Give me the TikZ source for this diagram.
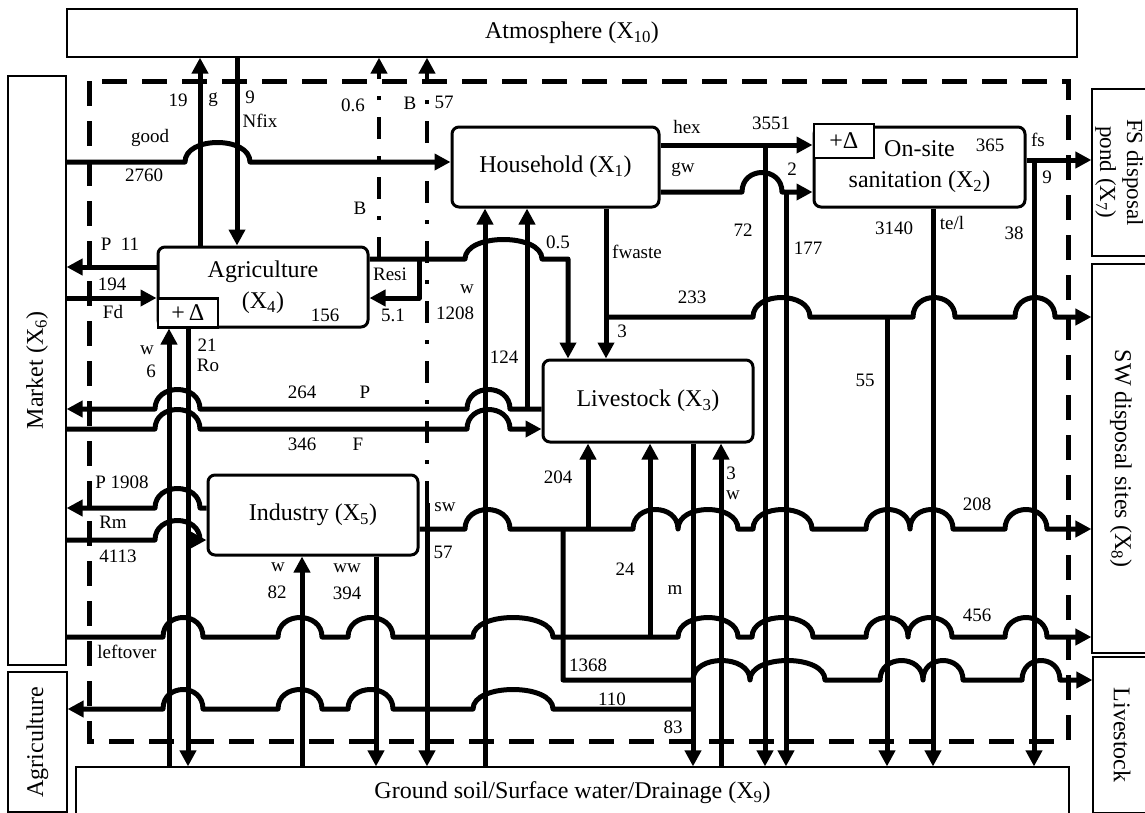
\documentclass[tikz,border=0pt]{standalone}
\usepackage{fontspec}
\setmainfont{Liberation Serif}
\usepackage{graphicx}
\usetikzlibrary{arrows.meta}

\begin{document}
\begin{tikzpicture}[x=1pt, y=-1pt,
    box/.style={rectangle, rounded corners=7pt, draw, line width=3pt, fill=white,
                minimum width=210pt, minimum height=80pt, align=center,
                font=\fontsize{24}{31}\selectfont},
    ext/.style={rectangle, draw, line width=1.2pt, fill=white, inner sep=0pt,
                font=\fontsize{24}{29}\selectfont},
    dbox/.style={rectangle, draw, line width=2.5pt, fill=white, inner sep=0pt,
                 minimum width=60pt, font=\fontsize{24}{29}\selectfont},
    flow/.style={line width=5pt, line join=round},
    arr/.style={flow, -{Triangle[length=16pt, width=16pt]}},
    burn/.style={line width=4pt, dash pattern=on 22pt off 17pt on 4pt off 17pt,
                 -{Triangle[length=16pt, width=16pt]}},
    sysline/.style={line width=5pt, dash pattern=on 25pt off 15pt},
    lbl/.style={inner sep=0pt, font=\fontsize{19}{22}\selectfont},
    hop/.style args={#1/#2/#3}{insert path={-- (#1,#3) .. controls (#1,#3-26) and (#2,#3-26) .. (#2,#3)}}]
\useasboundingbox (0,0) rectangle (1145,812);

% outside the system
\node[ext, minimum width=1010pt, minimum height=48pt] (atm) at (572,33) {Atmosphere (X\textsubscript{10})};
\node[ext, minimum width=58pt, minimum height=589pt] (mkt) at (37,370.5) {\rotatebox{90}{Market (X\textsubscript{6})}};
\node[ext, minimum width=59pt, minimum height=140pt] (agx) at (37.5,742) {\rotatebox{90}{Agriculture}};
\node[ext, minimum width=993pt, minimum height=52pt] (gnd) at (572.5,793) {Ground soil/Surface water/Drainage (X\textsubscript{9})};
\node[ext, minimum width=54pt, minimum height=167pt, font=\fontsize{23}{27}\selectfont] (fsp) at (1119,172.5)
    {\rotatebox{-90}{\begin{tabular}{@{}c@{}}FS disposal\\pond (X\textsubscript{7})\end{tabular}}};
\node[ext, minimum width=58pt, minimum height=389pt] (swd) at (1121,458.5) {\rotatebox{-90}{SW disposal sites (X\textsubscript{8})}};
\node[ext, minimum width=58pt, minimum height=156pt] (lvx) at (1122,735) {\rotatebox{-90}{Livestock}};

% processes
\node[box] (agri) at (263,287) {Agriculture\\(X\textsubscript{4})};
\node[box, minimum width=207pt] (hh) at (555.5,167) {Household (X\textsubscript{1})};
\node[box, minimum width=211pt] (oss) at (919.5,167) {On-site\\sanitation (X\textsubscript{2})};
\node[box, minimum height=82pt] (lvs) at (648,401) {Livestock (X\textsubscript{3})};
\node[box] (ind) at (313,515) {Industry (X\textsubscript{5})};
\node[dbox, minimum height=29pt, anchor=south west] (agd) at (agri.south west) {+\,Δ};
\node[dbox, minimum height=34pt, anchor=north west] (ossd) at ([yshift=3pt]oss.north west) {+Δ};

% system boundary
\draw[sysline] (89,81) rectangle (1068,741);

% junctions
\coordinate (jb) at (379,259);
\coordinate (jres) at (419,259);
\coordinate (jsw) at (427,503);
\coordinate (jp) at (527,409);
\coordinate (jhex) at (765,145);
\coordinate (jgw) at (786,192);
\coordinate (jfw) at (606,317);
\coordinate (j55) at (887,317);
\coordinate (jfs) at (1034,160);
\coordinate (jm) at (563,529);
\coordinate (j204) at (588,529);
\coordinate (j24) at (650,637);
\coordinate (j110) at (693,709);

% agriculture
\draw[arr] (agri.north -| 200,0) -- (atm.south -| 200,0);
\draw[arr] (atm.south -| 237,0) -- (agri.north -| 237,0);
\draw[arr] (mkt.east |- 0,162) [hop=185/250/162] -- (hh.west |- 0,162);
\draw[burn] (jb) -- (atm.south -| jb);
\draw[arr] (agri.east |- jres) [hop=465/542/259] -- (568,259) -- (lvs.north -| 568,0);
\draw[arr] (jres) -- (419,298) -- (agri.east |- 0,298);
\draw[arr] (agri.west |- 0,267) -- (mkt.east |- 0,267);
\draw[arr] (mkt.east |- 0,298) -- (agri.west |- 0,298);
\draw[arr] (gnd.north -| 169,0) -- (agri.south -| 169,0);
\draw[arr] (agri.south -| 188,0) -- (gnd.north -| 188,0);

% household
\draw[arr] (gnd.north -| 485,0) -- (hh.south -| 485,0);
\draw[arr] (jp) -- (hh.south -| jp);
\draw[arr] (hh.east |- jhex) -- (oss.west |- jhex);
\draw[arr] (jhex) -- (gnd.north -| jhex);
\draw[arr] (hh.east |- jgw) [hop=742/782/192] -- (oss.west |- jgw);
\draw[arr] (jgw) -- (gnd.north -| jgw);
\draw[arr] (hh.south -| jfw) -- (lvs.north -| jfw);
\draw[arr] (jfw) [hop=753/810/317] -- (j55) [hop=913/955/317] [hop=1015/1055/317] -- (swd.west |- jfw);
\draw[arr] (j55) -- (gnd.north -| j55);

% on-site sanitation
\draw[arr] (oss.south -| 933,0) -- (gnd.north -| 933,0);
\draw[arr] (oss.east |- jfs) -- (fsp.west |- jfs);
\draw[arr] (jfs) -- (gnd.north -| jfs);

% livestock
\draw[arr] (lvs.west |- jp) [hop=510/467/409] [hop=200/155/409] -- (mkt.east |- jp);
\draw[arr] (mkt.east |- 0,429) [hop=155/200/429] [hop=467/510/429] -- (lvs.west |- 0,429);
\draw[arr] (j204) -- (lvs.south -| j204);
\draw[arr] (j24) -- (lvs.south -| j24);
\draw[arr] (lvs.south -| j110) -- (gnd.north -| j110);
\draw[arr] (gnd.north -| 721,0) -- (lvs.south -| 721,0);

% industry
\draw[arr] (ind.west |- 0,508) [hop=200/155/508] -- (mkt.east |- 0,508);
\draw[arr] (mkt.east |- 0,540) [hop=155/200/540] -- (ind.west |- 0,540);
\draw[arr] (gnd.north -| 302,0) -- (ind.south -| 302,0);
\draw[arr] (ind.south -| 376,0) -- (gnd.north -| 376,0);
\draw[arr] (ind.east |- jm) [hop=465/510/529] [hop=633/678/529] [hop=678/738/529] [hop=753/812/529]
    [hop=866/910/529] [hop=910/953/529] [hop=1005/1047/529] -- (swd.west |- jm);
\draw[burn] (jsw) -- (atm.south -| jsw);
\draw[arr] (jsw) -- (gnd.north -| jsw);

% leftovers and manure
\draw[arr] (mkt.east |- 0,637) [hop=163/203/637] [hop=278/322/637] [hop=348/393/637] [hop=473/553/637]
    [hop=678/738/637] [hop=752/813/637] [hop=866/908/637] [hop=908/952/637] [hop=1005/1047/637] -- (swd.west |- 0,637);
\draw[arr] (jm) -- (563,680) [hop=693/750/680] [hop=750/825/680] [hop=880/923/680] [hop=923/963/680]
    [hop=1022/1060/680] -- (lvx.west |- 0,680);
\draw[arr] (j110) [hop=553/473/709] [hop=393/348/709] [hop=322/278/709] [hop=203/163/709] -- (agx.east |- j110);

% flow labels
\node[lbl] (t19) at (178,100) {19};
\node[lbl] (tg) at (213,100) {g};
\node[lbl] (t9a) at (250,97) {9};
\node[lbl] (tnfix) at (260,121) {Nfix};
\node[lbl] (t06) at (353,105) {0.6};
\node[lbl] (tb1) at (410,103) {B};
\node[lbl] (t57a) at (444,102) {57};
\node[lbl] (tgood) at (150,138) {good};
\node[lbl] (t2760) at (144,175) {2760};
\node[lbl] (tb2) at (360,208) {B};
\node[lbl] (tp11) at (120,244) {P~ 11};
\node[lbl] (t194) at (112,284) {194};
\node[lbl] (tfd) at (113,312) {Fd};
\node[lbl] (tresi) at (390,274) {Resi};
\node[lbl] (t51) at (393,315) {5.1};
\node[lbl] (t156) at (325,315) {156};
\node[lbl] (tw1) at (467,289) {w};
\node[lbl] (t1208) at (455,313) {1208};
\node[lbl] (t05) at (558,242) {0.5};
\node[lbl] (thex) at (687,127) {hex};
\node[lbl] (t3551) at (771,123) {3551};
\node[lbl] (tgw) at (683,170) {gw};
\node[lbl] (t2) at (792,169) {2};
\node[lbl] (t72) at (743,230) {72};
\node[lbl] (t177) at (808,248) {177};
\node[lbl] (tfw) at (637,252) {fwaste};
\node[lbl] (t233) at (692,297) {233};
\node[lbl] (t3a) at (622,331) {3};
\node[lbl] (t365) at (990,145) {365};
\node[lbl] (tfs) at (1038,140) {fs};
\node[lbl] (t9b) at (1047,177) {9};
\node[lbl] (t3140) at (894,228) {3140};
\node[lbl] (ttel) at (952,223) {te/l};
\node[lbl] (t38) at (1014,233) {38};
\node[lbl] (tw2) at (147,350) {w};
\node[lbl] (t6) at (151,371) {6};
\node[lbl] (t21) at (207,345) {21};
\node[lbl] (tro) at (208,365) {Ro};
\node[lbl] (t124) at (504,357) {124};
\node[lbl] (t264) at (302,392) {264};
\node[lbl] (tp1) at (365,392) {P};
\node[lbl] (t346) at (302,444) {346};
\node[lbl] (tf) at (358,444) {F};
\node[lbl] (t55) at (865,380) {55};
\node[lbl] (tp1908) at (122,482) {P 1908};
\node[lbl] (trm) at (113,522) {Rm};
\node[lbl] (t4113) at (118,556) {4113};
\node[lbl] (tsw) at (445,507) {sw};
\node[lbl] (t57b) at (443,552) {57};
\node[lbl] (t204) at (558,477) {204};
\node[lbl] (t3b) at (731,473) {3};
\node[lbl] (tw3) at (733,495) {w};
\node[lbl] (t208) at (977,504) {208};
\node[lbl] (tw4) at (278,567) {w};
\node[lbl] (t82) at (277,592) {82};
\node[lbl] (tww) at (347,568) {ww};
\node[lbl] (t394) at (347,593) {394};
\node[lbl] (t24) at (625,569) {24};
\node[lbl] (tm) at (675,590) {m};
\node[lbl] (t456) at (977,615) {456};
\node[lbl] (tleft) at (127,652) {leftover};
\node[lbl] (t1368) at (588,665) {1368};
\node[lbl] (t110) at (612,699) {110};
\node[lbl] (t83) at (673,727) {83};
\end{tikzpicture}
\end{document}
